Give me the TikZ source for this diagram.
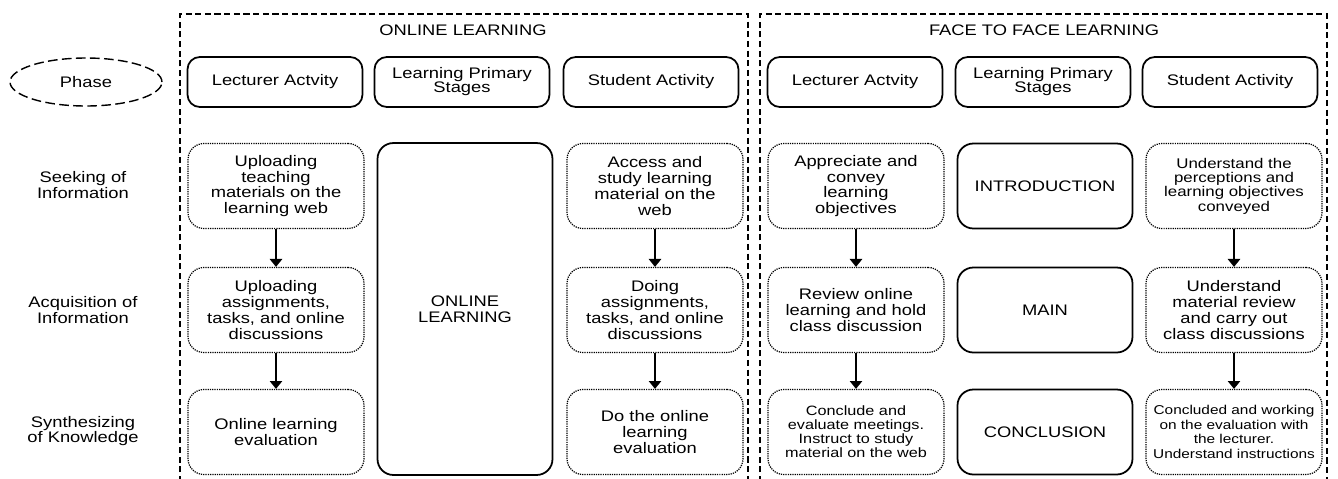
\documentclass[tikz,border=0pt]{standalone}
\usepackage{fontspec}
\setmainfont{Liberation Sans}[FakeStretch=1.2]
\usetikzlibrary{shapes.geometric,arrows.meta}

\begin{document}
\begin{tikzpicture}[x=0.02cm,y=-0.02cm,
    font=\fontsize{8.7}{9}\selectfont,
    head/.style={draw,line width=1pt,rounded corners=7pt,minimum width=3.5cm,minimum height=1cm,align=center},
    stage/.style={draw,line width=1pt,rounded corners=9pt,minimum width=3.5cm,minimum height=1.7cm,align=center},
    act/.style={draw,line width=0.7pt,dash pattern=on 0.7pt off 0.6pt,rounded corners=9pt,minimum width=3.52cm,minimum height=1.7cm,align=center},
    frame/.style={line width=1.1pt,dash pattern=on 3.5pt off 2pt},
    flow/.style={line width=1pt,-{Triangle[width=7pt,length=4.5pt]}}]
    \useasboundingbox (0,0) rectangle (1338,478);

    % Frames
    \draw[frame] (180,482) |- (748,14) -- (748,482);
    \draw[frame] (760,482) |- (1327,14) -- (1327,482);
    \node (online) at (463,30) {ONLINE LEARNING};
    \node (face) at (1044,30) {FACE TO FACE LEARNING};

    % Phases
    \node[draw,ellipse,line width=0.8pt,dash pattern=on 5.5pt off 2.5pt,minimum width=3.04cm,minimum height=0.96cm,inner sep=0pt] (phase) at (86,82) {Phase};
    \node[align=center] (seek) at (83,185) {Seeking of\\Information};
    \node[align=center] (acq) at (83,310) {Acquisition of\\Information};
    \node[align=center] (syn) at (83,431) {Synthesizing\\of Knowledge};

    % Headers
    \node[head] (onHL) at (275,82) {Lecturer Actvity};
    \node[head,font=\fontsize{8.7}{8}\selectfont] (onHP) at (462,82) {Learning Primary\\Stages};
    \node[head] (onHS) at (651,82) {Student Activity};
    \node[head] (ffHL) at (855,82) {Lecturer Actvity};
    \node[head,font=\fontsize{8.7}{8}\selectfont] (ffHP) at (1043,82) {Learning Primary\\Stages};
    \node[head] (ffHS) at (1230,82) {Student Activity};

    % Online learning
    \node[act] (onL1) at (276,186) {Uploading\\teaching\\materials on the\\learning web};
    \node[act] (onL2) at (276,310) {Uploading\\assignments,\\tasks, and online\\discussions};
    \node[act] (onL3) at (276,432) {Online learning\\evaluation};
    \node[stage,minimum height=6.64cm] (onP) at (465,309) {ONLINE\\LEARNING};
    \node[act] (onS1) at (655,186) {Access and\\study learning\\material on the\\web};
    \node[act] (onS2) at (655,310) {Doing\\assignments,\\tasks, and online\\discussions};
    \node[act] (onS3) at (655,432) {Do the online\\learning\\evaluation};

    % Face to face learning
    \node[act] (ffL1) at (856,186) {Appreciate and\\convey\\learning\\objectives};
    \node[act] (ffL2) at (856,310) {Review online\\learning and hold\\class discussion};
    \node[act,font=\fontsize{7.7}{8}\selectfont] (ffL3) at (856,432) {Conclude and\\evaluate meetings.\\Instruct to study\\material on the web};
    \node[stage] (ffP1) at (1045,186) {INTRODUCTION};
    \node[stage] (ffP2) at (1045,310) {MAIN};
    \node[stage] (ffP3) at (1045,432) {CONCLUSION};
    \node[act,font=\fontsize{8}{8.2}\selectfont] (ffS1) at (1234,186) {Understand the\\perceptions and\\learning objectives\\conveyed};
    \node[act] (ffS2) at (1234,310) {Understand\\material review\\and carry out\\class discussions};
    \node[act,font=\fontsize{7.3}{8.2}\selectfont] (ffS3) at (1234,432) {Concluded and working\\on the evaluation with\\the lecturer.\\Understand instructions};

    % Arrows
    \foreach \c in {onL,onS,ffL,ffS} {
        \draw[flow] (\c1.south) -- (\c2.north);
        \draw[flow] (\c2.south) -- (\c3.north);
    }
\end{tikzpicture}
\end{document}
